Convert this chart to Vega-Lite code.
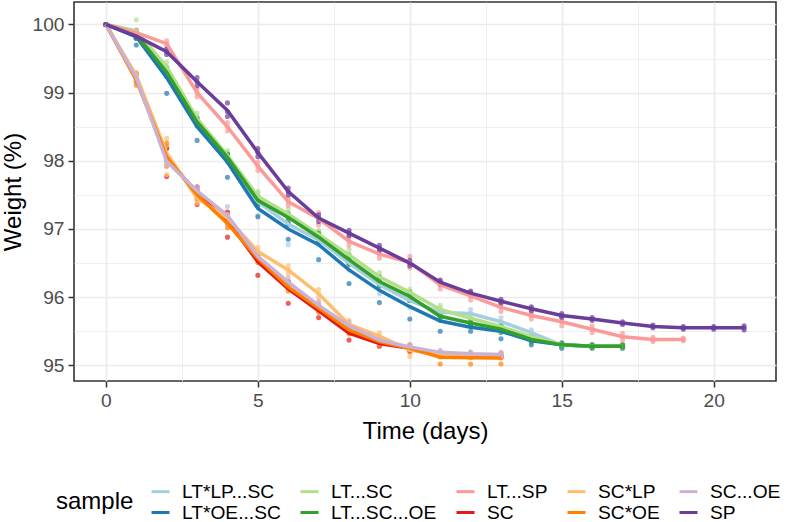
{
  "$schema": "https://vega.github.io/schema/vega-lite/v6.json",
  "description": "Weight loss over time per sample, replicate points and mean lines",
  "width": 702,
  "height": 379,
  "autosize": {"type": "none"},
  "padding": {"left": 74, "top": 2, "right": 13, "bottom": 141},
  "background": "white",
  "data": {"values": [
    {"s":"LT*LP...SC","d":0,"w":100},{"s":"LT*LP...SC","d":0,"w":100},{"s":"LT*LP...SC","d":0,"w":100},
    {"s":"LT*LP...SC","d":1,"w":99.92},{"s":"LT*LP...SC","d":1,"w":99.88},{"s":"LT*LP...SC","d":1,"w":99.84},
    {"s":"LT*LP...SC","d":2,"w":99.38},{"s":"LT*LP...SC","d":2,"w":99.23},{"s":"LT*LP...SC","d":2,"w":99.3},
    {"s":"LT*LP...SC","d":3,"w":98.65},{"s":"LT*LP...SC","d":3,"w":98.55},{"s":"LT*LP...SC","d":3,"w":98.55},
    {"s":"LT*LP...SC","d":4,"w":98.1},{"s":"LT*LP...SC","d":4,"w":98.0},{"s":"LT*LP...SC","d":4,"w":97.98},
    {"s":"LT*LP...SC","d":5,"w":97.52},{"s":"LT*LP...SC","d":5,"w":97.48},{"s":"LT*LP...SC","d":5,"w":97.2},
    {"s":"LT*LP...SC","d":6,"w":97.25},{"s":"LT*LP...SC","d":6,"w":97.2},{"s":"LT*LP...SC","d":6,"w":96.77},
    {"s":"LT*LP...SC","d":7,"w":96.95},{"s":"LT*LP...SC","d":7,"w":96.8},{"s":"LT*LP...SC","d":7,"w":96.77},
    {"s":"LT*LP...SC","d":8,"w":96.6},{"s":"LT*LP...SC","d":8,"w":96.5},{"s":"LT*LP...SC","d":8,"w":96.4},
    {"s":"LT*LP...SC","d":9,"w":96.3},{"s":"LT*LP...SC","d":9,"w":96.2},{"s":"LT*LP...SC","d":9,"w":96.05},
    {"s":"LT*LP...SC","d":10,"w":96.05},{"s":"LT*LP...SC","d":10,"w":95.95},{"s":"LT*LP...SC","d":10,"w":95.85},
    {"s":"LT*LP...SC","d":11,"w":95.84},{"s":"LT*LP...SC","d":11,"w":95.77},{"s":"LT*LP...SC","d":11,"w":95.72},
    {"s":"LT*LP...SC","d":12,"w":95.82},{"s":"LT*LP...SC","d":12,"w":95.76},{"s":"LT*LP...SC","d":12,"w":95.7},
    {"s":"LT*LP...SC","d":13,"w":95.7},{"s":"LT*LP...SC","d":13,"w":95.64},{"s":"LT*LP...SC","d":13,"w":95.58},
    {"s":"LT*LP...SC","d":14,"w":95.52},{"s":"LT*LP...SC","d":14,"w":95.48},{"s":"LT*LP...SC","d":14,"w":95.44},
    {"s":"LT*LP...SC","d":15,"w":95.32},{"s":"LT*LP...SC","d":15,"w":95.3},{"s":"LT*LP...SC","d":15,"w":95.27},
    {"s":"LT*LP...SC","d":16,"w":95.3},{"s":"LT*LP...SC","d":16,"w":95.28},{"s":"LT*LP...SC","d":16,"w":95.26},
    {"s":"LT*LP...SC","d":17,"w":95.3},{"s":"LT*LP...SC","d":17,"w":95.28},{"s":"LT*LP...SC","d":17,"w":95.26},

    {"s":"LT*OE...SC","d":0,"w":100},{"s":"LT*OE...SC","d":0,"w":100},{"s":"LT*OE...SC","d":0,"w":100},
    {"s":"LT*OE...SC","d":1,"w":99.9},{"s":"LT*OE...SC","d":1,"w":99.86},{"s":"LT*OE...SC","d":1,"w":99.7},
    {"s":"LT*OE...SC","d":2,"w":99.35},{"s":"LT*OE...SC","d":2,"w":99.32},{"s":"LT*OE...SC","d":2,"w":98.99},
    {"s":"LT*OE...SC","d":3,"w":98.62},{"s":"LT*OE...SC","d":3,"w":98.58},{"s":"LT*OE...SC","d":3,"w":98.3},
    {"s":"LT*OE...SC","d":4,"w":98.1},{"s":"LT*OE...SC","d":4,"w":98.08},{"s":"LT*OE...SC","d":4,"w":97.76},
    {"s":"LT*OE...SC","d":5,"w":97.38},{"s":"LT*OE...SC","d":5,"w":97.34},{"s":"LT*OE...SC","d":5,"w":97.18},
    {"s":"LT*OE...SC","d":6,"w":97.08},{"s":"LT*OE...SC","d":6,"w":97.07},{"s":"LT*OE...SC","d":6,"w":96.85},
    {"s":"LT*OE...SC","d":7,"w":96.87},{"s":"LT*OE...SC","d":7,"w":96.89},{"s":"LT*OE...SC","d":7,"w":96.55},
    {"s":"LT*OE...SC","d":8,"w":96.5},{"s":"LT*OE...SC","d":8,"w":96.5},{"s":"LT*OE...SC","d":8,"w":96.2},
    {"s":"LT*OE...SC","d":9,"w":96.2},{"s":"LT*OE...SC","d":9,"w":96.18},{"s":"LT*OE...SC","d":9,"w":95.92},
    {"s":"LT*OE...SC","d":10,"w":95.95},{"s":"LT*OE...SC","d":10,"w":95.95},{"s":"LT*OE...SC","d":10,"w":95.68},
    {"s":"LT*OE...SC","d":11,"w":95.72},{"s":"LT*OE...SC","d":11,"w":95.73},{"s":"LT*OE...SC","d":11,"w":95.5},
    {"s":"LT*OE...SC","d":12,"w":95.6},{"s":"LT*OE...SC","d":12,"w":95.58},{"s":"LT*OE...SC","d":12,"w":95.5},
    {"s":"LT*OE...SC","d":13,"w":95.56},{"s":"LT*OE...SC","d":13,"w":95.55},{"s":"LT*OE...SC","d":13,"w":95.39},
    {"s":"LT*OE...SC","d":14,"w":95.4},{"s":"LT*OE...SC","d":14,"w":95.38},{"s":"LT*OE...SC","d":14,"w":95.3},
    {"s":"LT*OE...SC","d":15,"w":95.33},{"s":"LT*OE...SC","d":15,"w":95.32},{"s":"LT*OE...SC","d":15,"w":95.25},
    {"s":"LT*OE...SC","d":16,"w":95.3},{"s":"LT*OE...SC","d":16,"w":95.29},{"s":"LT*OE...SC","d":16,"w":95.25},
    {"s":"LT*OE...SC","d":17,"w":95.3},{"s":"LT*OE...SC","d":17,"w":95.29},{"s":"LT*OE...SC","d":17,"w":95.25},

    {"s":"LT...SC","d":0,"w":100},{"s":"LT...SC","d":0,"w":100},{"s":"LT...SC","d":0,"w":100},
    {"s":"LT...SC","d":1,"w":100.07},{"s":"LT...SC","d":1,"w":99.85},{"s":"LT...SC","d":1,"w":99.8},
    {"s":"LT...SC","d":2,"w":99.45},{"s":"LT...SC","d":2,"w":99.38},{"s":"LT...SC","d":2,"w":99.31},
    {"s":"LT...SC","d":3,"w":98.7},{"s":"LT...SC","d":3,"w":98.6},{"s":"LT...SC","d":3,"w":98.56},
    {"s":"LT...SC","d":4,"w":98.15},{"s":"LT...SC","d":4,"w":98.05},{"s":"LT...SC","d":4,"w":98.04},
    {"s":"LT...SC","d":5,"w":97.55},{"s":"LT...SC","d":5,"w":97.47},{"s":"LT...SC","d":5,"w":97.42},
    {"s":"LT...SC","d":6,"w":97.3},{"s":"LT...SC","d":6,"w":97.2},{"s":"LT...SC","d":6,"w":97.16},
    {"s":"LT...SC","d":7,"w":96.98},{"s":"LT...SC","d":7,"w":96.92},{"s":"LT...SC","d":7,"w":96.86},
    {"s":"LT...SC","d":8,"w":96.7},{"s":"LT...SC","d":8,"w":96.6},{"s":"LT...SC","d":8,"w":96.56},
    {"s":"LT...SC","d":9,"w":96.36},{"s":"LT...SC","d":9,"w":96.3},{"s":"LT...SC","d":9,"w":96.24},
    {"s":"LT...SC","d":10,"w":96.12},{"s":"LT...SC","d":10,"w":96.07},{"s":"LT...SC","d":10,"w":96.02},
    {"s":"LT...SC","d":11,"w":95.88},{"s":"LT...SC","d":11,"w":95.82},{"s":"LT...SC","d":11,"w":95.76},
    {"s":"LT...SC","d":12,"w":95.74},{"s":"LT...SC","d":12,"w":95.69},{"s":"LT...SC","d":12,"w":95.64},
    {"s":"LT...SC","d":13,"w":95.62},{"s":"LT...SC","d":13,"w":95.57},{"s":"LT...SC","d":13,"w":95.52},
    {"s":"LT...SC","d":14,"w":95.46},{"s":"LT...SC","d":14,"w":95.42},{"s":"LT...SC","d":14,"w":95.38},
    {"s":"LT...SC","d":15,"w":95.32},{"s":"LT...SC","d":15,"w":95.3},{"s":"LT...SC","d":15,"w":95.28},
    {"s":"LT...SC","d":16,"w":95.3},{"s":"LT...SC","d":16,"w":95.28},{"s":"LT...SC","d":16,"w":95.26},
    {"s":"LT...SC","d":17,"w":95.3},{"s":"LT...SC","d":17,"w":95.28},{"s":"LT...SC","d":17,"w":95.26},

    {"s":"LT...SC...OE","d":0,"w":100},{"s":"LT...SC...OE","d":0,"w":100},{"s":"LT...SC...OE","d":0,"w":100},
    {"s":"LT...SC...OE","d":1,"w":99.9},{"s":"LT...SC...OE","d":1,"w":99.85},{"s":"LT...SC...OE","d":1,"w":99.8},
    {"s":"LT...SC...OE","d":2,"w":99.36},{"s":"LT...SC...OE","d":2,"w":99.3},{"s":"LT...SC...OE","d":2,"w":99.24},
    {"s":"LT...SC...OE","d":3,"w":98.62},{"s":"LT...SC...OE","d":3,"w":98.57},{"s":"LT...SC...OE","d":3,"w":98.52},
    {"s":"LT...SC...OE","d":4,"w":98.1},{"s":"LT...SC...OE","d":4,"w":98.05},{"s":"LT...SC...OE","d":4,"w":98.0},
    {"s":"LT...SC...OE","d":5,"w":97.47},{"s":"LT...SC...OE","d":5,"w":97.42},{"s":"LT...SC...OE","d":5,"w":97.37},
    {"s":"LT...SC...OE","d":6,"w":97.22},{"s":"LT...SC...OE","d":6,"w":97.17},{"s":"LT...SC...OE","d":6,"w":97.12},
    {"s":"LT...SC...OE","d":7,"w":96.94},{"s":"LT...SC...OE","d":7,"w":96.88},{"s":"LT...SC...OE","d":7,"w":96.82},
    {"s":"LT...SC...OE","d":8,"w":96.62},{"s":"LT...SC...OE","d":8,"w":96.55},{"s":"LT...SC...OE","d":8,"w":96.48},
    {"s":"LT...SC...OE","d":9,"w":96.3},{"s":"LT...SC...OE","d":9,"w":96.23},{"s":"LT...SC...OE","d":9,"w":96.16},
    {"s":"LT...SC...OE","d":10,"w":96.07},{"s":"LT...SC...OE","d":10,"w":96.01},{"s":"LT...SC...OE","d":10,"w":95.95},
    {"s":"LT...SC...OE","d":11,"w":95.78},{"s":"LT...SC...OE","d":11,"w":95.72},{"s":"LT...SC...OE","d":11,"w":95.66},
    {"s":"LT...SC...OE","d":12,"w":95.67},{"s":"LT...SC...OE","d":12,"w":95.62},{"s":"LT...SC...OE","d":12,"w":95.57},
    {"s":"LT...SC...OE","d":13,"w":95.58},{"s":"LT...SC...OE","d":13,"w":95.53},{"s":"LT...SC...OE","d":13,"w":95.48},
    {"s":"LT...SC...OE","d":14,"w":95.42},{"s":"LT...SC...OE","d":14,"w":95.38},{"s":"LT...SC...OE","d":14,"w":95.34},
    {"s":"LT...SC...OE","d":15,"w":95.32},{"s":"LT...SC...OE","d":15,"w":95.3},{"s":"LT...SC...OE","d":15,"w":95.28},
    {"s":"LT...SC...OE","d":16,"w":95.3},{"s":"LT...SC...OE","d":16,"w":95.28},{"s":"LT...SC...OE","d":16,"w":95.26},
    {"s":"LT...SC...OE","d":17,"w":95.3},{"s":"LT...SC...OE","d":17,"w":95.28},{"s":"LT...SC...OE","d":17,"w":95.26},

    {"s":"LT...SP","d":0,"w":100},{"s":"LT...SP","d":0,"w":100},{"s":"LT...SP","d":0,"w":100},
    {"s":"LT...SP","d":1,"w":99.92},{"s":"LT...SP","d":1,"w":99.88},{"s":"LT...SP","d":1,"w":99.84},
    {"s":"LT...SP","d":2,"w":99.76},{"s":"LT...SP","d":2,"w":99.72},{"s":"LT...SP","d":2,"w":99.68},
    {"s":"LT...SP","d":3,"w":99.06},{"s":"LT...SP","d":3,"w":99.0},{"s":"LT...SP","d":3,"w":98.94},
    {"s":"LT...SP","d":4,"w":98.56},{"s":"LT...SP","d":4,"w":98.5},{"s":"LT...SP","d":4,"w":98.44},
    {"s":"LT...SP","d":5,"w":97.98},{"s":"LT...SP","d":5,"w":97.92},{"s":"LT...SP","d":5,"w":97.86},
    {"s":"LT...SP","d":6,"w":97.45},{"s":"LT...SP","d":6,"w":97.4},{"s":"LT...SP","d":6,"w":97.35},
    {"s":"LT...SP","d":7,"w":97.24},{"s":"LT...SP","d":7,"w":97.16},{"s":"LT...SP","d":7,"w":97.06},
    {"s":"LT...SP","d":8,"w":96.88},{"s":"LT...SP","d":8,"w":96.82},{"s":"LT...SP","d":8,"w":96.76},
    {"s":"LT...SP","d":9,"w":96.69},{"s":"LT...SP","d":9,"w":96.63},{"s":"LT...SP","d":9,"w":96.57},
    {"s":"LT...SP","d":10,"w":96.6},{"s":"LT...SP","d":10,"w":96.5},{"s":"LT...SP","d":10,"w":96.43},
    {"s":"LT...SP","d":11,"w":96.24},{"s":"LT...SP","d":11,"w":96.18},{"s":"LT...SP","d":11,"w":96.12},
    {"s":"LT...SP","d":12,"w":96.08},{"s":"LT...SP","d":12,"w":96.02},{"s":"LT...SP","d":12,"w":95.96},
    {"s":"LT...SP","d":13,"w":95.91},{"s":"LT...SP","d":13,"w":95.85},{"s":"LT...SP","d":13,"w":95.79},
    {"s":"LT...SP","d":14,"w":95.78},{"s":"LT...SP","d":14,"w":95.73},{"s":"LT...SP","d":14,"w":95.68},
    {"s":"LT...SP","d":15,"w":95.7},{"s":"LT...SP","d":15,"w":95.64},{"s":"LT...SP","d":15,"w":95.58},
    {"s":"LT...SP","d":16,"w":95.58},{"s":"LT...SP","d":16,"w":95.53},{"s":"LT...SP","d":16,"w":95.48},
    {"s":"LT...SP","d":17,"w":95.47},{"s":"LT...SP","d":17,"w":95.42},{"s":"LT...SP","d":17,"w":95.37},
    {"s":"LT...SP","d":18,"w":95.41},{"s":"LT...SP","d":18,"w":95.38},{"s":"LT...SP","d":18,"w":95.35},
    {"s":"LT...SP","d":19,"w":95.4},{"s":"LT...SP","d":19,"w":95.38},{"s":"LT...SP","d":19,"w":95.36},

    {"s":"SC","d":0,"w":100},{"s":"SC","d":0,"w":100},{"s":"SC","d":0,"w":100},
    {"s":"SC","d":1,"w":99.28},{"s":"SC","d":1,"w":99.22},{"s":"SC","d":1,"w":99.16},
    {"s":"SC","d":2,"w":98.2},{"s":"SC","d":2,"w":98.18},{"s":"SC","d":2,"w":97.77},
    {"s":"SC","d":3,"w":97.62},{"s":"SC","d":3,"w":97.58},{"s":"SC","d":3,"w":97.36},
    {"s":"SC","d":4,"w":97.25},{"s":"SC","d":4,"w":97.23},{"s":"SC","d":4,"w":96.88},
    {"s":"SC","d":5,"w":96.63},{"s":"SC","d":5,"w":96.61},{"s":"SC","d":5,"w":96.32},
    {"s":"SC","d":6,"w":96.23},{"s":"SC","d":6,"w":96.22},{"s":"SC","d":6,"w":95.91},
    {"s":"SC","d":7,"w":95.86},{"s":"SC","d":7,"w":95.84},{"s":"SC","d":7,"w":95.7},
    {"s":"SC","d":8,"w":95.52},{"s":"SC","d":8,"w":95.52},{"s":"SC","d":8,"w":95.37},
    {"s":"SC","d":9,"w":95.35},{"s":"SC","d":9,"w":95.33},{"s":"SC","d":9,"w":95.28},
    {"s":"SC","d":10,"w":95.28},{"s":"SC","d":10,"w":95.26},{"s":"SC","d":10,"w":95.21},
    {"s":"SC","d":11,"w":95.17},{"s":"SC","d":11,"w":95.15},{"s":"SC","d":11,"w":95.13},
    {"s":"SC","d":12,"w":95.16},{"s":"SC","d":12,"w":95.14},{"s":"SC","d":12,"w":95.12},
    {"s":"SC","d":13,"w":95.15},{"s":"SC","d":13,"w":95.13},{"s":"SC","d":13,"w":95.11},

    {"s":"SC*LP","d":0,"w":100},{"s":"SC*LP","d":0,"w":100},{"s":"SC*LP","d":0,"w":100},
    {"s":"SC*LP","d":1,"w":99.3},{"s":"SC*LP","d":1,"w":99.25},{"s":"SC*LP","d":1,"w":99.2},
    {"s":"SC*LP","d":2,"w":98.33},{"s":"SC*LP","d":2,"w":98.22},{"s":"SC*LP","d":2,"w":97.8},
    {"s":"SC*LP","d":3,"w":97.52},{"s":"SC*LP","d":3,"w":97.45},{"s":"SC*LP","d":3,"w":97.38},
    {"s":"SC*LP","d":4,"w":97.22},{"s":"SC*LP","d":4,"w":97.16},{"s":"SC*LP","d":4,"w":97.1},
    {"s":"SC*LP","d":5,"w":96.73},{"s":"SC*LP","d":5,"w":96.67},{"s":"SC*LP","d":5,"w":96.61},
    {"s":"SC*LP","d":6,"w":96.46},{"s":"SC*LP","d":6,"w":96.4},{"s":"SC*LP","d":6,"w":96.34},
    {"s":"SC*LP","d":7,"w":96.11},{"s":"SC*LP","d":7,"w":96.05},{"s":"SC*LP","d":7,"w":95.99},
    {"s":"SC*LP","d":8,"w":95.66},{"s":"SC*LP","d":8,"w":95.6},{"s":"SC*LP","d":8,"w":95.54},
    {"s":"SC*LP","d":9,"w":95.48},{"s":"SC*LP","d":9,"w":95.43},{"s":"SC*LP","d":9,"w":95.38},
    {"s":"SC*LP","d":10,"w":95.3},{"s":"SC*LP","d":10,"w":95.24},{"s":"SC*LP","d":10,"w":95.13},
    {"s":"SC*LP","d":11,"w":95.18},{"s":"SC*LP","d":11,"w":95.15},{"s":"SC*LP","d":11,"w":95.12},
    {"s":"SC*LP","d":12,"w":95.17},{"s":"SC*LP","d":12,"w":95.14},{"s":"SC*LP","d":12,"w":95.11},
    {"s":"SC*LP","d":13,"w":95.17},{"s":"SC*LP","d":13,"w":95.14},{"s":"SC*LP","d":13,"w":95.11},

    {"s":"SC*OE","d":0,"w":100},{"s":"SC*OE","d":0,"w":100},{"s":"SC*OE","d":0,"w":100},
    {"s":"SC*OE","d":1,"w":99.26},{"s":"SC*OE","d":1,"w":99.18},{"s":"SC*OE","d":1,"w":99.11},
    {"s":"SC*OE","d":2,"w":98.26},{"s":"SC*OE","d":2,"w":97.99},{"s":"SC*OE","d":2,"w":97.92},
    {"s":"SC*OE","d":3,"w":97.56},{"s":"SC*OE","d":3,"w":97.5},{"s":"SC*OE","d":3,"w":97.44},
    {"s":"SC*OE","d":4,"w":97.14},{"s":"SC*OE","d":4,"w":97.08},{"s":"SC*OE","d":4,"w":97.02},
    {"s":"SC*OE","d":5,"w":96.63},{"s":"SC*OE","d":5,"w":96.57},{"s":"SC*OE","d":5,"w":96.51},
    {"s":"SC*OE","d":6,"w":96.21},{"s":"SC*OE","d":6,"w":96.15},{"s":"SC*OE","d":6,"w":96.09},
    {"s":"SC*OE","d":7,"w":95.9},{"s":"SC*OE","d":7,"w":95.84},{"s":"SC*OE","d":7,"w":95.78},
    {"s":"SC*OE","d":8,"w":95.58},{"s":"SC*OE","d":8,"w":95.52},{"s":"SC*OE","d":8,"w":95.46},
    {"s":"SC*OE","d":9,"w":95.4},{"s":"SC*OE","d":9,"w":95.35},{"s":"SC*OE","d":9,"w":95.3},
    {"s":"SC*OE","d":10,"w":95.3},{"s":"SC*OE","d":10,"w":95.25},{"s":"SC*OE","d":10,"w":95.2},
    {"s":"SC*OE","d":11,"w":95.2},{"s":"SC*OE","d":11,"w":95.14},{"s":"SC*OE","d":11,"w":95.02},
    {"s":"SC*OE","d":12,"w":95.18},{"s":"SC*OE","d":12,"w":95.13},{"s":"SC*OE","d":12,"w":95.02},
    {"s":"SC*OE","d":13,"w":95.18},{"s":"SC*OE","d":13,"w":95.12},{"s":"SC*OE","d":13,"w":95.02},

    {"s":"SC...OE","d":0,"w":100},{"s":"SC...OE","d":0,"w":100},{"s":"SC...OE","d":0,"w":100},
    {"s":"SC...OE","d":1,"w":99.27},{"s":"SC...OE","d":1,"w":99.22},{"s":"SC...OE","d":1,"w":99.17},
    {"s":"SC...OE","d":2,"w":98.04},{"s":"SC...OE","d":2,"w":97.99},{"s":"SC...OE","d":2,"w":97.94},
    {"s":"SC...OE","d":3,"w":97.62},{"s":"SC...OE","d":3,"w":97.56},{"s":"SC...OE","d":3,"w":97.5},
    {"s":"SC...OE","d":4,"w":97.33},{"s":"SC...OE","d":4,"w":97.2},{"s":"SC...OE","d":4,"w":97.07},
    {"s":"SC...OE","d":5,"w":96.66},{"s":"SC...OE","d":5,"w":96.6},{"s":"SC...OE","d":5,"w":96.54},
    {"s":"SC...OE","d":6,"w":96.28},{"s":"SC...OE","d":6,"w":96.22},{"s":"SC...OE","d":6,"w":96.16},
    {"s":"SC...OE","d":7,"w":95.94},{"s":"SC...OE","d":7,"w":95.88},{"s":"SC...OE","d":7,"w":95.82},
    {"s":"SC...OE","d":8,"w":95.63},{"s":"SC...OE","d":8,"w":95.58},{"s":"SC...OE","d":8,"w":95.53},
    {"s":"SC...OE","d":9,"w":95.41},{"s":"SC...OE","d":9,"w":95.37},{"s":"SC...OE","d":9,"w":95.33},
    {"s":"SC...OE","d":10,"w":95.3},{"s":"SC...OE","d":10,"w":95.27},{"s":"SC...OE","d":10,"w":95.24},
    {"s":"SC...OE","d":11,"w":95.22},{"s":"SC...OE","d":11,"w":95.19},{"s":"SC...OE","d":11,"w":95.16},
    {"s":"SC...OE","d":12,"w":95.2},{"s":"SC...OE","d":12,"w":95.17},{"s":"SC...OE","d":12,"w":95.14},
    {"s":"SC...OE","d":13,"w":95.19},{"s":"SC...OE","d":13,"w":95.16},{"s":"SC...OE","d":13,"w":95.13},

    {"s":"SP","d":0,"w":100},{"s":"SP","d":0,"w":100},{"s":"SP","d":0,"w":100},
    {"s":"SP","d":1,"w":99.86},{"s":"SP","d":1,"w":99.83},{"s":"SP","d":1,"w":99.8},
    {"s":"SP","d":2,"w":99.64},{"s":"SP","d":2,"w":99.6},{"s":"SP","d":2,"w":99.56},
    {"s":"SP","d":3,"w":99.22},{"s":"SP","d":3,"w":99.16},{"s":"SP","d":3,"w":99.1},
    {"s":"SP","d":4,"w":98.85},{"s":"SP","d":4,"w":98.72},{"s":"SP","d":4,"w":98.65},
    {"s":"SP","d":5,"w":98.18},{"s":"SP","d":5,"w":98.12},{"s":"SP","d":5,"w":98.06},
    {"s":"SP","d":6,"w":97.6},{"s":"SP","d":6,"w":97.55},{"s":"SP","d":6,"w":97.5},
    {"s":"SP","d":7,"w":97.21},{"s":"SP","d":7,"w":97.16},{"s":"SP","d":7,"w":97.11},
    {"s":"SP","d":8,"w":96.98},{"s":"SP","d":8,"w":96.94},{"s":"SP","d":8,"w":96.9},
    {"s":"SP","d":9,"w":96.76},{"s":"SP","d":9,"w":96.72},{"s":"SP","d":9,"w":96.68},
    {"s":"SP","d":10,"w":96.54},{"s":"SP","d":10,"w":96.5},{"s":"SP","d":10,"w":96.46},
    {"s":"SP","d":11,"w":96.25},{"s":"SP","d":11,"w":96.22},{"s":"SP","d":11,"w":96.19},
    {"s":"SP","d":12,"w":96.09},{"s":"SP","d":12,"w":96.06},{"s":"SP","d":12,"w":96.03},
    {"s":"SP","d":13,"w":95.97},{"s":"SP","d":13,"w":95.94},{"s":"SP","d":13,"w":95.91},
    {"s":"SP","d":14,"w":95.86},{"s":"SP","d":14,"w":95.83},{"s":"SP","d":14,"w":95.8},
    {"s":"SP","d":15,"w":95.76},{"s":"SP","d":15,"w":95.73},{"s":"SP","d":15,"w":95.7},
    {"s":"SP","d":16,"w":95.7},{"s":"SP","d":16,"w":95.68},{"s":"SP","d":16,"w":95.66},
    {"s":"SP","d":17,"w":95.64},{"s":"SP","d":17,"w":95.62},{"s":"SP","d":17,"w":95.6},
    {"s":"SP","d":18,"w":95.59},{"s":"SP","d":18,"w":95.57},{"s":"SP","d":18,"w":95.55},
    {"s":"SP","d":19,"w":95.57},{"s":"SP","d":19,"w":95.55},{"s":"SP","d":19,"w":95.53},
    {"s":"SP","d":20,"w":95.57},{"s":"SP","d":20,"w":95.55},{"s":"SP","d":20,"w":95.53},
    {"s":"SP","d":21,"w":95.58},{"s":"SP","d":21,"w":95.55},{"s":"SP","d":21,"w":95.52}
  ]},
  "encoding": {
    "x": {
      "field": "d",
      "type": "quantitative",
      "scale": {"domain": [-1.05, 22.05], "nice": false, "zero": false},
      "axis": {
        "title": "Time (days)",
        "values": [0, 2.5, 5, 7.5, 10, 12.5, 15, 17.5, 20],
        "labelExpr": "datum.value % 5 === 0 ? format(datum.value, 'd') : ''",
        "tickOpacity": {"condition": {"test": "datum.value % 5 !== 0", "value": 0}, "value": 1},
        "gridWidth": {"condition": {"test": "datum.value % 5 !== 0", "value": 0.8}, "value": 1.6},
        "titleY": 50,
        "titleBaseline": "middle"
      }
    },
    "y": {
      "field": "w",
      "type": "quantitative",
      "scale": {"domain": [94.77, 100.33], "nice": false, "zero": false},
      "axis": {
        "title": "Weight (%)",
        "values": [95, 95.5, 96, 96.5, 97, 97.5, 98, 98.5, 99, 99.5, 100],
        "labelExpr": "datum.value % 1 === 0 ? format(datum.value, 'd') : ''",
        "tickOpacity": {"condition": {"test": "datum.value % 1 !== 0", "value": 0}, "value": 1},
        "gridWidth": {"condition": {"test": "datum.value % 1 !== 0", "value": 0.8}, "value": 1.6},
        "titleX": -61,
        "titleBaseline": "middle"
      }
    },
    "color": {
      "field": "s",
      "type": "nominal",
      "scale": {
        "domain": ["LT*LP...SC", "LT*OE...SC", "LT...SC", "LT...SC...OE", "LT...SP", "SC", "SC*LP", "SC*OE", "SC...OE", "SP"],
        "range": ["#A6CEE3", "#1F78B4", "#B2DF8A", "#33A02C", "#FB9A99", "#E31A1C", "#FDBF6F", "#FF7F00", "#CAB2D6", "#6A3D9A"]
      },
      "legend": {
        "title": "sample",
        "orient": "none",
        "legendX": -18,
        "legendY": 479,
        "columns": 5,
        "titleOrient": "left",
        "titleAnchor": "middle",
        "titlePadding": 16,
        "columnPadding": 13,
        "rowPadding": 0,
        "labelOffset": 11,
        "symbolType": "stroke",
        "symbolSize": 324,
        "symbolStrokeWidth": 3,
        "symbolOpacity": 1
      }
    }
  },
  "layer": [
    {
      "mark": {"type": "circle", "size": 26, "opacity": 0.7}
    },
    {
      "transform": [{"aggregate": [{"op": "mean", "field": "w", "as": "w"}], "groupby": ["s", "d"]}],
      "mark": {"type": "line", "strokeWidth": 3.5}
    }
  ],
  "config": {
    "font": "Liberation Sans",
    "view": {"stroke": "#333333", "strokeWidth": 1.6},
    "axis": {
      "domain": false,
      "gridColor": "#EBEBEB",
      "tickColor": "#333333",
      "tickWidth": 1.5,
      "tickSize": 6,
      "labelFont": "Liberation Sans",
      "labelFontSize": 19.2,
      "labelColor": "#4D4D4D",
      "labelPadding": 4,
      "labelOverlap": false,
      "titleFont": "Liberation Sans",
      "titleFontSize": 24,
      "titleFontWeight": "normal",
      "titleColor": "black"
    },
    "legend": {
      "padding": 0,
      "labelFont": "Liberation Sans",
      "labelFontSize": 19.2,
      "labelColor": "black",
      "titleFont": "Liberation Sans",
      "titleFontSize": 24,
      "titleFontWeight": "normal",
      "titleColor": "black"
    }
  }
}
